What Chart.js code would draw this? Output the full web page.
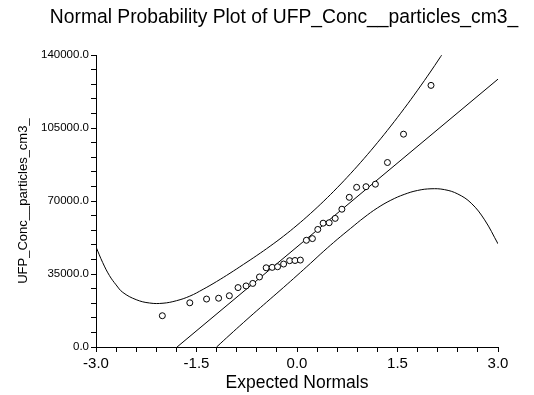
<!DOCTYPE html>
<html>
<head>
<meta charset="utf-8">
<script src="https://cdn.jsdelivr.net/npm/chart.js@4"></script>
<style>
  body { margin: 0; background: #fff; }
</style>
</head>
<body>
<canvas id="probPlot" width="534" height="395"></canvas>
<script>
// Beobachtete Werte gegen erwartete Normalwerte
const expected = [-2.01, -1.60, -1.35, -1.17, -1.01, -0.88, -0.76, -0.66, -0.56, -0.46,
  -0.37, -0.29, -0.20, -0.11, -0.03, 0.05, 0.14, 0.23, 0.31, 0.39,
  0.48, 0.57, 0.67, 0.78, 0.89, 1.03, 1.17, 1.35, 1.59, 2.00];
const observed = [15000, 21200, 23000, 23400, 24600, 28500, 29300, 30500, 33600, 38000,
  38200, 38500, 39800, 41400, 41500, 41700, 51200, 52000, 56400, 59400,
  59600, 61700, 66100, 71800, 76600, 76900, 78100, 88500, 102100, 125500];

// Referenzlinie
const refX = [-1.79, 3.0];
const refY = [0, 128500];

// Konfidenzband oben / unten
const upperX = [-3.0, -2.9, -2.8, -2.7, -2.6, -2.4, -2.2, -2.0, -1.8, -1.6, -1.4, -1.2, -1.0,
  -0.8, -0.6, -0.4, -0.2, 0.0, 0.2, 0.4, 0.6, 0.8, 1.0, 1.2, 1.4, 1.6, 1.8, 2.0, 2.2];
const upperY = [48000, 40500, 34300, 29800, 26200, 22700, 21100, 21000, 22200, 24400, 27700, 31400, 35400,
  39600, 43900, 48400, 53200, 58400, 64000, 70000, 76400, 83200, 90400, 98000, 106000, 114400, 123200, 132400, 142000];
const lowerX = [-1.2, -1.0, -0.8, -0.6, -0.4, -0.2, 0.0, 0.2, 0.4, 0.6, 0.8, 1.0, 1.2, 1.4,
  1.6, 1.8, 2.0, 2.2, 2.4, 2.6, 2.8, 3.0];
const lowerY = [0, 5900, 11700, 17400, 23000, 28600, 34300, 40100, 46000, 51600, 56900, 62100, 66700, 70400,
  73200, 75100, 75900, 75500, 73400, 69000, 61000, 49500];

const pairs = (xs, ys) => xs.map((x, i) => ({ x: x, y: ys[i] }));

const fontFam = "'Liberation Sans', Arial, sans-serif";
Chart.defaults.color = '#000';
Chart.defaults.font.family = fontFam;

const curve = {
  showLine: true,
  pointRadius: 0,
  borderColor: '#000',
  borderWidth: 1,
  tension: 0.4,
  fill: false
};

new Chart(document.getElementById('probPlot'), {
  type: 'scatter',
  data: {
    datasets: [
      {
        data: pairs(expected, observed),
        pointStyle: 'circle',
        pointRadius: 3,
        pointBorderWidth: 1,
        borderColor: '#000',
        backgroundColor: '#fff'
      },
      Object.assign({ data: pairs(refX, refY) }, curve, { tension: 0 }),
      Object.assign({ data: pairs(upperX, upperY) }, curve),
      Object.assign({ data: pairs(lowerX, lowerY) }, curve)
    ]
  },
  options: {
    responsive: false,
    animation: false,
    layout: { padding: { left: 34, right: 0, top: 0, bottom: 0 } },
    plugins: {
      legend: { display: false },
      tooltip: { enabled: false },
      title: {
        display: true,
        text: 'Normal Probability Plot of UFP_Conc__particles_cm3_',
        font: { size: 19.3, weight: 'normal' },
        padding: { top: 6, bottom: 26 }
      }
    },
    scales: {
      x: {
        type: 'linear',
        min: -3,
        max: 3,
        afterFit: s => { s.height = 48; },
        ticks: {
          stepSize: 0.3,
          autoSkip: false,
          maxRotation: 0,
          padding: 3,
          font: { size: 15 },
          callback: v => Math.abs(v / 1.5 - Math.round(v / 1.5)) < 1e-6 ? v.toFixed(1) : ''
        },
        grid: { drawOnChartArea: false, drawTicks: true, tickLength: 5, color: '#000' },
        border: { display: true, color: '#000', width: 1 },
        title: {
          display: true,
          text: 'Expected Normals',
          font: { size: 17.5 },
          padding: { top: 0, bottom: 1 }
        }
      },
      y: {
        type: 'linear',
        min: 0,
        max: 140000,
        afterFit: s => { s.width = 62; },
        ticks: {
          stepSize: 7000,
          autoSkip: false,
          padding: 2,
          font: { size: 11.5 },
          callback: v => v % 35000 === 0 ? v.toFixed(1) : ''
        },
        grid: { drawOnChartArea: false, drawTicks: true, tickLength: 5, color: '#000' },
        border: { display: true, color: '#000', width: 1 },
        title: {
          display: true,
          text: 'UFP_Conc__particles_cm3_',
          font: { size: 13 },
          padding: { top: -18, bottom: 0 }
        }
      },
      // leere Achse rechts, nur als Platzhalter
      yRight: {
        type: 'linear',
        position: 'right',
        display: true,
        afterFit: s => { s.width = 36; },
        ticks: { display: false },
        grid: { display: false },
        border: { display: false }
      }
    }
  }
});
</script>
</body>
</html>
